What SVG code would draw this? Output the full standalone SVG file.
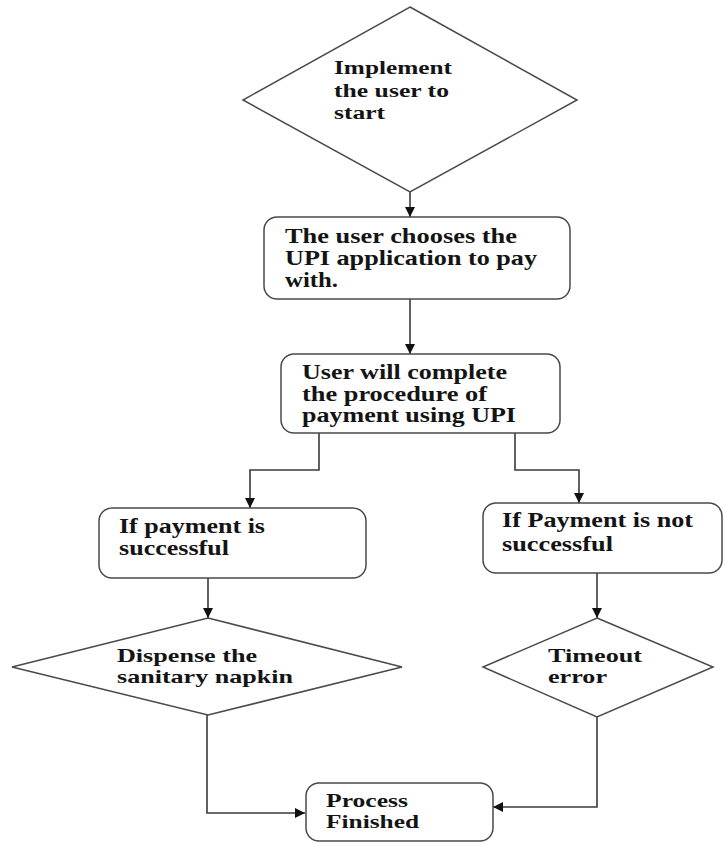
<svg xmlns="http://www.w3.org/2000/svg" width="726" height="843" viewBox="0 0 726 843">
<style>
.shape{fill:#fff;stroke:#4a4a4a;stroke-width:1.5}
.t{font-family:"Liberation Serif","Times New Roman",serif;font-weight:bold;fill:#141414}
.c{fill:none;stroke:#3a3a3a;stroke-width:1.6}
</style>
<defs>
<marker id="ah" viewBox="0 0 10 10" refX="10" refY="5" markerWidth="10" markerHeight="10" markerUnits="userSpaceOnUse" orient="auto">
<path d="M0,0 L10,5 L0,10 z" fill="#111"/>
</marker>
</defs>
<rect width="726" height="843" fill="#fff"/>
<g id="connectors">
<path class="c" d="M410,192 V217" marker-end="url(#ah)"/>
<path class="c" d="M410,299 V354" marker-end="url(#ah)"/>
<path class="c" d="M319,433 V470 H250 V508" marker-end="url(#ah)"/>
<path class="c" d="M515,433 V470 H579 V503" marker-end="url(#ah)"/>
<path class="c" d="M208,578 V618" marker-end="url(#ah)"/>
<path class="c" d="M597,573 V618" marker-end="url(#ah)"/>
<path class="c" d="M207,715 V813 H305" marker-end="url(#ah)"/>
<path class="c" d="M597,717 V807 H493" marker-end="url(#ah)"/>
</g>
<g id="start">
<polygon class="shape" points="410,7 577,100 410,192 243,100"/>
<text class="t" font-size="18.5"><tspan x="334" y="74" textLength="118" lengthAdjust="spacingAndGlyphs">Implement</tspan><tspan x="334" y="97" textLength="115" lengthAdjust="spacingAndGlyphs">the user to</tspan><tspan x="334" y="119" textLength="51" lengthAdjust="spacingAndGlyphs">start</tspan></text>
</g>
<g id="choose">
<rect class="shape" x="264" y="217" width="306" height="82" rx="13"/>
<text class="t" font-size="21"><tspan x="285" y="243" textLength="232" lengthAdjust="spacingAndGlyphs">The user chooses the</tspan><tspan x="285" y="265" textLength="252" lengthAdjust="spacingAndGlyphs">UPI application to pay</tspan><tspan x="285" y="287" textLength="53" lengthAdjust="spacingAndGlyphs">with.</tspan></text>
</g>
<g id="complete">
<rect class="shape" x="281" y="354" width="279" height="79" rx="13"/>
<text class="t" font-size="20"><tspan x="302" y="379" textLength="205" lengthAdjust="spacingAndGlyphs">User will complete</tspan><tspan x="302" y="401" textLength="185" lengthAdjust="spacingAndGlyphs">the procedure of</tspan><tspan x="302" y="422" textLength="214" lengthAdjust="spacingAndGlyphs">payment using UPI</tspan></text>
</g>
<g id="success">
<rect class="shape" x="99" y="508" width="267" height="70" rx="13"/>
<text class="t" font-size="20"><tspan x="119" y="533" textLength="146" lengthAdjust="spacingAndGlyphs">If payment is</tspan><tspan x="119" y="555" textLength="110" lengthAdjust="spacingAndGlyphs">successful</tspan></text>
</g>
<g id="fail">
<rect class="shape" x="483" y="503" width="239" height="70" rx="13"/>
<text class="t" font-size="20"><tspan x="502" y="527" textLength="191" lengthAdjust="spacingAndGlyphs">If Payment is not</tspan><tspan x="502" y="551" textLength="111" lengthAdjust="spacingAndGlyphs">successful</tspan></text>
</g>
<g id="dispense">
<polygon class="shape" points="208,618 402,667 208,715 12,667"/>
<text class="t" font-size="19"><tspan x="117" y="662" textLength="140" lengthAdjust="spacingAndGlyphs">Dispense the</tspan><tspan x="117" y="683" textLength="176" lengthAdjust="spacingAndGlyphs">sanitary napkin</tspan></text>
</g>
<g id="timeout">
<polygon class="shape" points="597,618 713,667 597,717 483,667"/>
<text class="t" font-size="19.5"><tspan x="548" y="662" textLength="94" lengthAdjust="spacingAndGlyphs">Timeout</tspan><tspan x="548" y="683" textLength="59" lengthAdjust="spacingAndGlyphs">error</tspan></text>
</g>
<g id="finished">
<rect class="shape" x="306" y="783" width="187" height="58" rx="13"/>
<text class="t" font-size="18.5"><tspan x="326" y="807" textLength="82" lengthAdjust="spacingAndGlyphs">Process</tspan><tspan x="326" y="828" textLength="93" lengthAdjust="spacingAndGlyphs">Finished</tspan></text>
</g>
</svg>
